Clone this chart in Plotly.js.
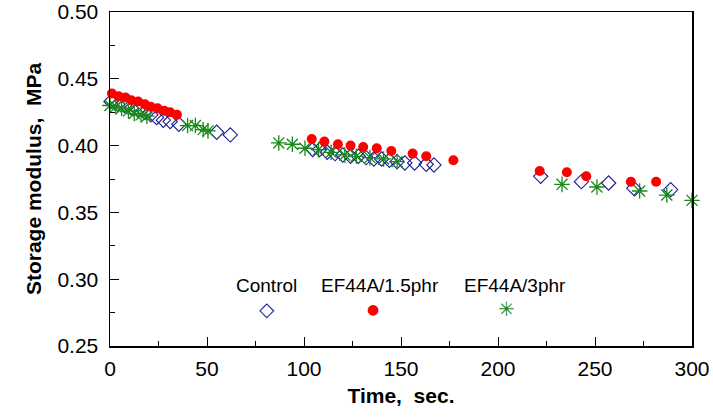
<!DOCTYPE html>
<html>
<head>
<meta charset="utf-8">
<script src="https://cdn.plot.ly/plotly-3.0.1.min.js"></script>
<style>html,body{margin:0;padding:0;background:#fff;}#chart{width:713px;height:418px;}</style>
</head>
<body>
<div id="chart"></div>
<script>
// Control
const controlX = [0.5, 4, 7.5, 11, 14.5, 18, 21, 24, 27.5, 31, 35.5, 55, 62,
  104.5, 108, 112, 116, 120, 124, 128, 132, 136, 140, 144, 148, 152, 157, 163, 167,
  222, 243, 257, 270, 289];
const controlY = [0.433, 0.431, 0.430, 0.428, 0.427, 0.425, 0.423, 0.421, 0.419, 0.418, 0.416, 0.410, 0.408,
  0.397, 0.397, 0.395, 0.394, 0.393, 0.392, 0.392, 0.391, 0.390, 0.390, 0.389, 0.388, 0.387, 0.387, 0.386, 0.3855,
  0.377, 0.373, 0.372, 0.368, 0.367];
// EF44A/1.5phr
const ef15X = [1, 4.5, 8, 11, 14.5, 18, 21, 24.5, 28, 31, 34.5,
  104, 110.5, 117.5, 124, 130.5, 137.5, 145, 156, 163, 177,
  221.5, 235.5, 245.5, 268.5, 281.5];
const ef15Y = [0.439, 0.437, 0.436, 0.434, 0.433, 0.431, 0.429, 0.428, 0.426, 0.425, 0.423,
  0.405, 0.403, 0.401, 0.400, 0.399, 0.398, 0.396, 0.394, 0.392, 0.389,
  0.381, 0.380, 0.377, 0.373, 0.373];
// EF44A/3phr
const ef3X = [0, 3, 6, 9.5, 12.5, 16, 19, 40, 44, 48, 50.5,
  87, 94, 100.5, 107.5, 114, 121, 127, 134, 141, 148,
  233, 251, 273, 287, 300];
const ef3Y = [0.430, 0.429, 0.428, 0.426, 0.424, 0.423, 0.422, 0.415, 0.415, 0.412, 0.411,
  0.402, 0.401, 0.398, 0.397, 0.395, 0.393, 0.392, 0.391, 0.390, 0.388,
  0.371, 0.369, 0.366, 0.363, 0.359];

const seriesNames = ["Control", "EF44A/1.5phr", "EF44A/3phr"];
const xTitle = "Time,  sec.";
const yTitle = "Storage modulus,  MPa";

const navy = "#1c1c96", red = "#ff0000", green = "#178a17";
const FONT = "Liberation Sans, Arial, sans-serif";

const traces = [
  {x: controlX, y: controlY, name: seriesNames[0], type: "scatter", mode: "markers", cliponaxis: false,
   marker: {symbol: "diamond-open", size: 11, color: navy, line: {color: navy, width: 1.1}}},
  {x: ef3X, y: ef3Y, name: seriesNames[2], type: "scatter", mode: "markers", cliponaxis: false,
   marker: {symbol: "asterisk-open", size: 13, color: green, line: {color: green, width: 1.3}}},
  {x: ef15X, y: ef15Y, name: seriesNames[1], type: "scatter", mode: "markers", cliponaxis: false,
   marker: {symbol: "circle", size: 10, color: red, line: {width: 0}}}
];

const axisCommon = {
  showgrid: false, zeroline: false, showline: true, linecolor: "#000", linewidth: 1.5,
  mirror: true, ticks: "inside", ticklen: 9, tickwidth: 1, tickcolor: "#000",
  tickfont: {family: FONT, size: 21, color: "#000"}
};

const layout = {
  width: 713, height: 418,
  margin: {l: 110, r: 21, t: 12, b: 72, pad: 0},
  paper_bgcolor: "#fff", plot_bgcolor: "#fff",
  showlegend: false,
  xaxis: Object.assign({}, axisCommon, {
    range: [0, 300], dtick: 50, tick0: 0,
    minor: {dtick: 25, ticks: "inside", ticklen: 5, tickcolor: "#000", tickwidth: 1},
    ticklabelstandoff: 3,
    title: {text: xTitle, font: {family: FONT, size: 21, color: "#000", weight: "bold"}, standoff: 9}
  }),
  yaxis: Object.assign({}, axisCommon, {
    range: [0.25, 0.50], dtick: 0.05, tick0: 0.25, tickformat: ".2f",
    minor: {dtick: 0.025, ticks: "inside", ticklen: 5, tickcolor: "#000", tickwidth: 1},
    ticklabelstandoff: 6,
    title: {text: yTitle, font: {family: FONT, size: 21, color: "#000", weight: "bold"}, standoff: 10}
  }),
  annotations: [
    {xref: "paper", yref: "paper", x: (266 - 110) / 582, y: (346 - 285) / 334, text: seriesNames[0], showarrow: false, xanchor: "center", yanchor: "middle", font: {family: FONT, size: 19, color: "#000"}},
    {xref: "paper", yref: "paper", x: (380 - 110) / 582, y: (346 - 285) / 334, text: seriesNames[1], showarrow: false, xanchor: "center", yanchor: "middle", font: {family: FONT, size: 19, color: "#000"}},
    {xref: "paper", yref: "paper", x: (515 - 110) / 582, y: (346 - 285) / 334, text: seriesNames[2], showarrow: false, xanchor: "center", yanchor: "middle", font: {family: FONT, size: 19, color: "#000"}},
    {xref: "paper", yref: "paper", x: (266.5 - 110) / 582, y: (346 - 309) / 334, text: "\u25C7", showarrow: false, xanchor: "center", yanchor: "middle", font: {family: "DejaVu Sans", size: 20, color: navy}},
    {xref: "paper", yref: "paper", x: (372.5 - 110) / 582, y: (346 - 309) / 334, text: "\u25CF", showarrow: false, xanchor: "center", yanchor: "middle", font: {family: "DejaVu Sans", size: 14, color: red}},
    {xref: "paper", yref: "paper", x: (506 - 110) / 582, y: (346 - 309) / 334, text: "\u2733", showarrow: false, xanchor: "center", yanchor: "middle", font: {family: "DejaVu Sans", size: 20, color: green}}
  ]
};

Plotly.newPlot("chart", traces, layout, {staticPlot: true, displayModeBar: false});
</script>
</body>
</html>
